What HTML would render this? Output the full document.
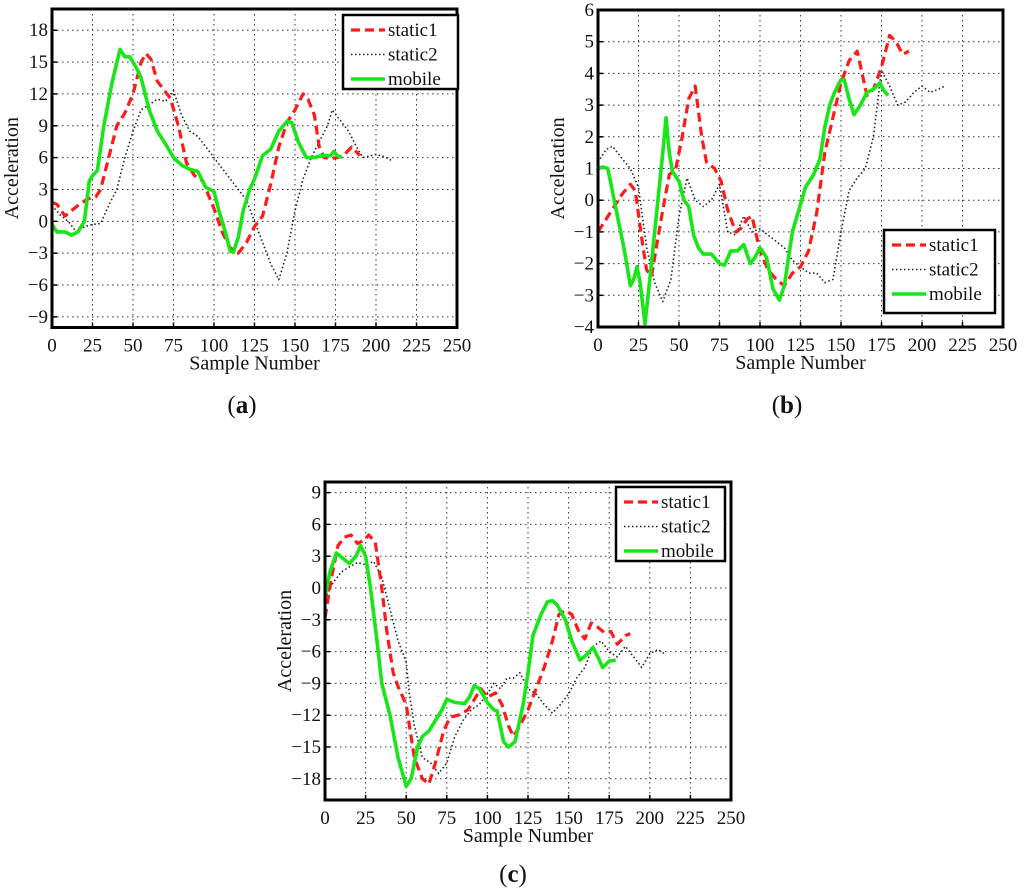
<!DOCTYPE html>
<html><head><meta charset="utf-8"><style>
body{margin:0;background:#fff;}
svg{display:block;}
svg text{font-family:"Liberation Serif","Times New Roman",serif;}
</style></head><body>
<svg id="fig" width="1024" height="895" viewBox="0 0 1024 895"></svg>
<script>
// ---- data: panel a ----
const aMobileX=[0,3,8,12,16,20,23,25,28,32,37,42,45,48,52,55,60,65,70,75,80,85,90,95,100,103,107,110,112,115,118,122,125,130,135,140,145,148,152,157,162,167,172,174,176,179];
const aMobileY=[-0.3,-1,-1,-1.3,-1,0,3.8,4.3,4.8,9,13,16.2,15.5,15.5,14.5,13.5,10.5,8.5,7.3,6,5.3,4.9,4.7,3.2,2.8,1,-1,-2.8,-2.9,-1.5,1,3,4,6.2,6.8,8.5,9.4,9.3,7.5,6,6,6.2,6.2,6.6,6.2,6];
const aS1X=[0,3,8,12,17,22,27,30,35,40,45,50,55,58,61,65,70,73,78,83,88,93,100,105,110,115,120,125,130,135,140,145,150,155,158,162,165,168,172,176,180,185,190];
const aS1Y=[1.8,1.6,0.5,1,1.6,2.1,2.3,3,6,9,10.2,12,15,15.8,15.3,13.2,12.2,11.6,9,5.5,4.3,3.8,1.2,-1,-2.5,-3,-2,-0.5,0.5,3.5,7,9.3,10.5,12,11.5,10,7,6,5.9,6,6.2,7,6.2];
const aS2X=[0,5,10,15,20,25,30,35,40,45,50,55,60,65,70,75,80,85,90,95,100,105,110,115,120,125,130,135,140,145,150,155,160,165,170,173,178,183,188,192,200,205,210];
const aS2Y=[1.5,0.6,0,-1,-0.5,-0.3,-0.2,1.5,3,6,8.5,10.5,11,11.5,11.3,12.3,10,8.5,8,7,6,5,4,3,2,0,-2,-4,-5.5,-3,1,4,6,7.5,9,10.5,9.5,8.5,7,6,6.3,6.1,5.7];
// ---- data: panel b ----
const bMobileX=[0,3,6,8,12,16,20,22,24,26,29,32,36,40,42,44,46,50,53,56,59,62,65,70,75,78,82,86,90,94,97,100,104,108,112,115,120,124,128,133,137,140,143,146,150,152,155,158,162,166,170,172,174,176,179];
const bMobileY=[1,1.05,1,0.5,-0.5,-1.5,-2.7,-2.5,-2.1,-2.6,-3.9,-2.5,-0.5,1.5,2.6,1.5,0.9,0.6,0,-0.2,-1.1,-1.5,-1.7,-1.7,-2,-2.05,-1.6,-1.6,-1.4,-2,-1.8,-1.5,-1.8,-2.8,-3.15,-2.7,-1,-0.3,0.4,0.8,1.3,2.3,3,3.4,3.8,3.8,3.2,2.7,3,3.4,3.5,3.6,3.7,3.5,3.3];
const bS1X=[0,5,10,15,20,23,27,30,33,37,40,44,48,52,56,60,64,67,72,76,80,85,88,92,95,100,105,110,115,120,125,130,135,140,145,150,155,160,163,166,170,175,180,184,188,192];
const bS1Y=[-1,-0.6,-0.2,0.2,0.5,0.3,-1.2,-2.2,-2.4,-1.2,-0.3,0.8,1,2,3.2,3.6,2,1.2,1,0.6,-0.3,-1,-0.9,-0.6,-0.5,-1.6,-2.2,-2.5,-2.7,-2.3,-2.1,-1.6,-0.4,1.5,2.6,3.7,4.4,4.7,4,3.3,3.5,4.2,5.2,5,4.6,4.7];
const bS2X=[0,5,9,15,20,25,30,35,40,45,50,55,60,65,70,75,80,85,90,95,100,105,110,115,120,125,130,135,140,145,150,155,160,165,170,175,180,185,190,195,200,205,210,214];
const bS2Y=[1.2,1.6,1.7,1.3,1,0.4,-1.5,-2.6,-3.2,-2.5,-0.5,0.7,0,-0.2,0,0.5,-1,-1.1,-0.5,-1,-0.9,-1.1,-1.3,-1.5,-1.9,-2.1,-2.3,-2.3,-2.6,-2.5,-1,0.3,0.7,1,2,4.1,3.6,3,3.1,3.4,3.6,3.4,3.5,3.6];
// ---- data: panel c ----
const cMobileX=[0,3,7,11,15,19,22,25,28,32,35,40,45,50,53,57,60,64,68,72,75,80,86,89,92,95,100,104,106,110,113,117,122,125,128,133,137,140,143,148,152,157,161,165,168,171,175,179];
const cMobileY=[-0.8,1.5,3.3,2.8,2.3,3,4,3,0,-5,-9,-12,-16,-18.7,-18,-15,-14,-13.5,-12.5,-11.5,-10.5,-10.8,-10.9,-10.3,-9.2,-9.5,-10.8,-11.5,-11.6,-14.5,-15,-14.5,-11,-8,-4.5,-2.5,-1.3,-1.2,-1.6,-3,-5,-6.8,-6.3,-5.6,-6.5,-7.5,-6.9,-6.8];
const cS1X=[0,4,8,12,16,20,24,27,31,35,38,42,45,50,55,60,64,68,73,77,82,88,92,96,100,105,109,113,116,120,125,130,135,140,144,148,152,156,160,164,168,172,176,180,185,188];
const cS1Y=[-2.8,1,4,4.8,5,4.2,4.5,5,4.3,0,-4,-8,-9.3,-11,-16,-18,-18.5,-16.5,-13.5,-12.2,-12,-11.5,-10.5,-9.5,-10.3,-9.9,-11,-13,-14,-13,-11.5,-9.5,-7.5,-5,-2.5,-2.1,-2.5,-4,-4.8,-3.3,-3.7,-4.2,-4.1,-5.3,-4.5,-4.3];
const cS2X=[0,5,10,15,20,25,30,35,40,45,50,52,55,60,65,70,75,80,85,90,95,100,104,108,112,116,120,125,130,135,140,145,150,155,160,165,170,175,180,185,190,195,200,205,210];
const cS2Y=[-1,0.5,1.5,2,2.4,2.2,2.5,1,-2,-5,-7,-10,-13,-16,-16.5,-17.5,-16.5,-14,-12.5,-11.5,-11,-10,-9,-9.5,-8.5,-8.5,-8,-9.5,-10,-11,-11.8,-11,-10,-8.5,-7.5,-5.5,-5,-6,-6.5,-5.5,-6.5,-7.5,-6.2,-5.8,-6.3];
const xTicks=[0,25,50,75,100,125,150,175,200,225,250];
const aYTicks=[-9,-6,-3,0,3,6,9,12,15,18];
const bYTicks=[-4,-3,-2,-1,0,1,2,3,4,5,6];
const cYTicks=[-18,-15,-12,-9,-6,-3,0,3,6,9];
const seriesNames=["static1","static2","mobile"];

const NS="http://www.w3.org/2000/svg";
const FF='"Liberation Serif", "Times New Roman", serif';
const svg=document.getElementById('fig');
function mk(tag,attrs,parent,text){const e=document.createElementNS(NS,tag);for(const k in attrs)e.setAttribute(k,attrs[k]);if(tag==='text')e.setAttribute('font-family',FF);if(text!==undefined)e.textContent=text;(parent||svg).appendChild(e);return e;}
const styles={
 static1:{stroke:"#ff1a1a","stroke-width":3.2,"stroke-dasharray":"9 5",fill:"none"},
 static2:{stroke:"#222","stroke-width":1.6,"stroke-dasharray":"1.5 2.5",fill:"none"},
 mobile:{stroke:"#19e619","stroke-width":3.6,fill:"none"}
};
function panel(id,L,R,T,B,ymin,ymax,yTicks,series,leg,label,labelX,labelY){
 const g=mk('g',{});
 
 
 const sx=v=>L+(v-0)/250*(R-L);
 const sy=v=>B-(v-ymin)/(ymax-ymin)*(B-T);
 xTicks.forEach(t=>{
  const x=sx(t);
  if(t>0&&t<250){const gl=mk('line',{x1:x,x2:x,y1:T,y2:B,stroke:"#333","stroke-width":1,"stroke-dasharray":"1.5 3.5"},g);
   }
  mk('line',{x1:x,x2:x,y1:B,y2:B-5,stroke:"#000","stroke-width":1.5},g);
  const tx=mk('text',{x:x,y:B+24,"text-anchor":"middle","font-size":19,fill:"#111"},g,t);
  
 });
 yTicks.forEach(t=>{
  const y=sy(t);
  const gl=mk('line',{x1:L,x2:R,y1:y,y2:y,stroke:"#333","stroke-width":1,"stroke-dasharray":"1.5 3.5"},g);
  
  mk('line',{x1:L,x2:L+5,y1:y,y2:y,stroke:"#000","stroke-width":1.5},g);
  const tx=mk('text',{x:L-4,y:y+6,"text-anchor":"end","font-size":19,fill:"#111"},g,t<0?"\u2212"+(-t):t);
  
 });
 const order=["static2","static1","mobile"];
 order.forEach(n=>{
  const s=series[n];
  const d=s[0].map((x,i)=>(i?"L":"M")+sx(x).toFixed(1)+","+sy(s[1][i]).toFixed(1)).join(" ");
  const p=mk('path',Object.assign({d:d,"stroke-linejoin":"round"},styles[n]),g);
  
  
 });
 const box=mk('rect',{x:L,y:T,width:R-L,height:B-T,fill:"none",stroke:"#000","stroke-width":3},g);
 
 const yl=mk('text',{x:0,y:0,transform:`translate(${L-34},${(T+B)/2}) rotate(-90)`,"text-anchor":"middle","font-size":20,fill:"#111"},g,"Acceleration");
 
 const xl=mk('text',{x:(L+R)/2,y:B+42,"text-anchor":"middle","font-size":20,fill:"#111"},g,"Sample Number");
 
 const lg=mk('g',{},g);
 
 mk('rect',{x:leg[0],y:leg[1],width:leg[2],height:leg[3],fill:"#fff",stroke:"#000","stroke-width":2.5},lg);
 seriesNames.forEach((n,i)=>{
  const y=leg[1]+15+i*24.5;
  const ln=mk('line',Object.assign({x1:leg[0]+8,x2:leg[0]+42,y1:y,y2:y},styles[n]),lg);
  
  const t=mk('text',{x:leg[0]+45,y:y+6,"font-size":19,fill:"#111"},lg,n);
  
 });
 const pl=mk('text',{x:labelX,y:labelY,"text-anchor":"middle","font-size":25,fill:"#111"},g);
 
 mk('tspan',{},pl,"(");mk('tspan',{"font-weight":"bold"},pl,label);mk('tspan',{},pl,")");
}
panel('a',52,457,9,327.5,-10,20,aYTicks,{static1:[aS1X,aS1Y],static2:[aS2X,aS2Y],mobile:[aMobileX,aMobileY]},[343,15,115,74],'a',242,413);
panel('b',598,1003,10,327,-4,6,bYTicks,{static1:[bS1X,bS1Y],static2:[bS2X,bS2Y],mobile:[bMobileX,bMobileY]},[884,230,111,83],'b',787,413);
panel('c',325,731,482,800,-20,10,cYTicks,{static1:[cS1X,cS1Y],static2:[cS2X,cS2Y],mobile:[cMobileX,cMobileY]},[616,487,109,74],'c',513,882);
</script>
</body></html>
